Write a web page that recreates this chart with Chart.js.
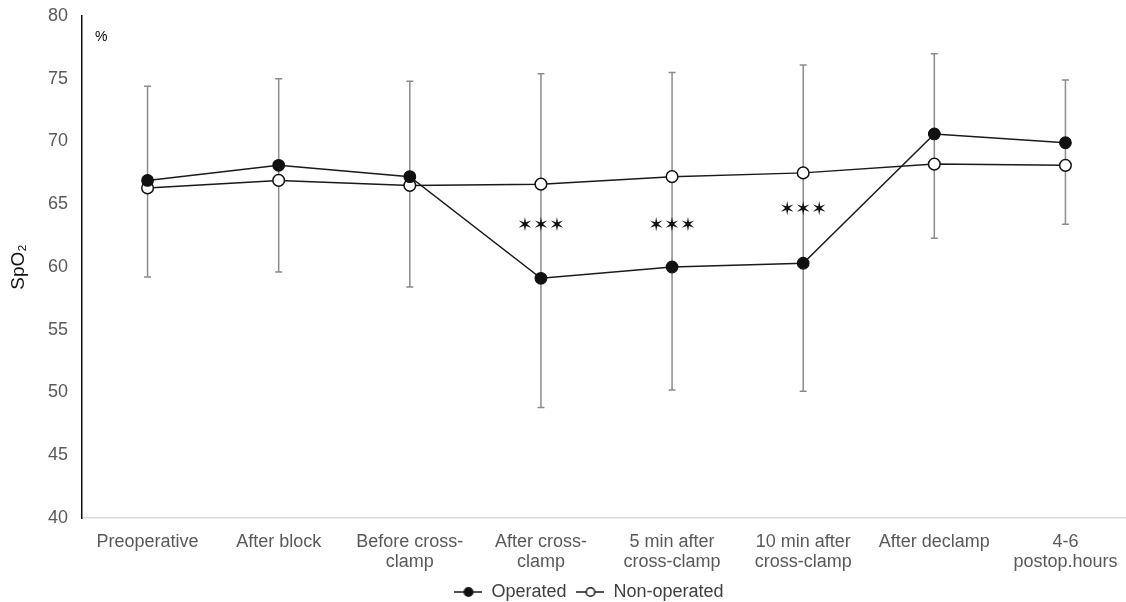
<!DOCTYPE html>
<html>
<head>
<meta charset="utf-8">
<script src="https://cdn.jsdelivr.net/npm/chart.js@4/dist/chart.umd.min.js"></script>
<style>
  html, body { margin: 0; padding: 0; background: #fff; overflow: hidden; }
  #chart { display: block; }
</style>
</head>
<body>
<!-- a few px wider than the window: the original plot area runs off the right edge -->
<canvas id="chart" width="1131" height="602"></canvas>
<script>
// categories and values
var categories = [
  'Preoperative', 'After block', ['Before cross-', 'clamp'], ['After cross-', 'clamp'],
  ['5 min after', 'cross-clamp'], ['10 min after', 'cross-clamp'], 'After declamp', ['4-6', 'postop.hours']
];
var operated    = [66.9, 68.1, 67.2, 59.1, 60.0, 60.3, 70.6, 69.9];
var nonOperated = [66.3, 66.9, 66.5, 66.6, 67.2, 67.5, 68.2, 68.1];
var errTop      = [74.4, 75.0, 74.8, 75.4, 75.5, 76.1, 77.0, 74.9];
var errBottom   = [59.2, 59.6, 58.4, 48.8, 50.2, 50.1, 62.3, 63.4];
// significance marks (null = none)
var starLevels  = [null, null, null, 63.4, 63.4, 64.7, null, null];
var yTicks = [40, 45, 50, 55, 60, 65, 70, 75, 80];

var FONT = "'Liberation Sans', Arial, sans-serif";

// little line+marker icons for the legend
function legendIcon(fill) {
  var c = document.createElement('canvas');
  c.width = 28; c.height = 14;
  var g = c.getContext('2d');
  g.strokeStyle = '#1a1a1a';
  g.lineWidth = 1.5;
  g.beginPath(); g.moveTo(0, 7); g.lineTo(28, 7); g.stroke();
  g.beginPath(); g.arc(14, 7, 4.3, 0, Math.PI * 2);
  g.fillStyle = fill; g.fill(); g.stroke();
  return c;
}

// error bars behind the lines, stars + unit on top
var errorBars = {
  id: 'errorBars',
  afterLayout: function(chart) {
    // legend sits a bit right of centre in the original
    chart.legend.left += 20;
    chart.legend.right += 20;
  },
  beforeDatasetsDraw: function(chart) {
    var ctx = chart.ctx, x = chart.scales.x, y = chart.scales.y;
    ctx.save();
    ctx.strokeStyle = '#8c8c8c';
    ctx.lineWidth = 1.5;
    for (var i = 0; i < categories.length; i++) {
      var px = x.getPixelForValue(i);
      var t = y.getPixelForValue(errTop[i]);
      var b = y.getPixelForValue(errBottom[i]);
      ctx.beginPath();
      ctx.moveTo(px, t); ctx.lineTo(px, b);
      ctx.moveTo(px - 3.5, t); ctx.lineTo(px + 3.5, t);
      ctx.moveTo(px - 3.5, b); ctx.lineTo(px + 3.5, b);
      ctx.stroke();
    }
    ctx.restore();
  },
  afterDatasetsDraw: function(chart) {
    var ctx = chart.ctx, x = chart.scales.x, y = chart.scales.y;
    ctx.save();
    ctx.fillStyle = '#111';
    ctx.font = "19px 'DejaVu Sans'";
    ctx.textAlign = 'center';
    ctx.textBaseline = 'middle';
    for (var i = 0; i < categories.length; i++) {
      if (starLevels[i] === null) continue;
      ctx.fillText('\u2736\u2736\u2736', x.getPixelForValue(i), y.getPixelForValue(starLevels[i]) + 2);
    }
    // unit label in the corner
    ctx.fillStyle = '#000';
    ctx.font = '14px ' + FONT;
    ctx.textAlign = 'left';
    ctx.fillText('%', chart.chartArea.left + 13, chart.chartArea.top + 21);
    ctx.restore();
  }
};

new Chart(document.getElementById('chart'), {
  type: 'line',
  data: {
    labels: categories,
    datasets: [
      {
        label: 'Operated',
        data: operated,
        borderColor: '#1a1a1a',
        borderWidth: 1.5,
        backgroundColor: '#111',
        pointBackgroundColor: '#111',
        pointBorderColor: '#111',
        pointRadius: 5.8,
        pointBorderWidth: 1.2,
        tension: 0
      },
      {
        label: 'Non-operated',
        data: nonOperated,
        borderColor: '#1a1a1a',
        borderWidth: 1.5,
        backgroundColor: '#fff',
        pointBackgroundColor: '#fff',
        pointBorderColor: '#111',
        pointRadius: 5.8,
        pointBorderWidth: 1.5,
        tension: 0
      }
    ]
  },
  options: {
    responsive: false,
    animation: false,
    layout: { autoPadding: false, padding: { top: 16, right: 0, left: 7, bottom: -9 } },
    plugins: {
      tooltip: { enabled: false },
      legend: {
        position: 'bottom',
        labels: {
          usePointStyle: true,
          pointStyleWidth: 28,
          color: '#404040',
          font: { family: FONT, size: 18 },
          padding: 10,
          boxWidth: 28,
          generateLabels: function(chart) {
            return [
              { text: 'Operated', pointStyle: legendIcon('#111'), datasetIndex: 0, lineWidth: 0, fontColor: '#404040' },
              { text: 'Non-operated', pointStyle: legendIcon('#fff'), datasetIndex: 1, lineWidth: 0, fontColor: '#404040' }
            ];
          }
        }
      }
    },
    scales: {
      x: {
        offset: true,
        afterFit: function(scale) {
          scale.height = 55;
          scale.paddingLeft = 0;
          scale.paddingRight = 0;
        },
        grid: { display: false, drawTicks: false },
        border: { color: '#d9d9d9', width: 1.5 },
        ticks: {
          color: '#595959',
          font: { family: FONT, size: 18, lineHeight: 1.1 },
          padding: 14,
          maxRotation: 0,
          autoSkip: false
        }
      },
      y: {
        min: 40,
        max: 80,
        afterBuildTicks: function(scale) {
          scale.ticks = yTicks.map(function(v) { return { value: v }; });
        },
        afterFit: function(scale) {
          scale.width = 75;
          scale.paddingTop = 0;
          scale.paddingBottom = 0;
        },
        grid: { display: false, drawTicks: false },
        border: { color: '#111', width: 1.5 },
        title: {
          display: true,
          text: 'SpO\u2082',
          color: '#111',
          font: { family: FONT, size: 19 },
          padding: { top: 0, bottom: 6 }
        },
        ticks: {
          color: '#595959',
          font: { family: FONT, size: 18 },
          padding: 14
        }
      }
    }
  },
  plugins: [errorBars]
});
</script>
</body>
</html>
